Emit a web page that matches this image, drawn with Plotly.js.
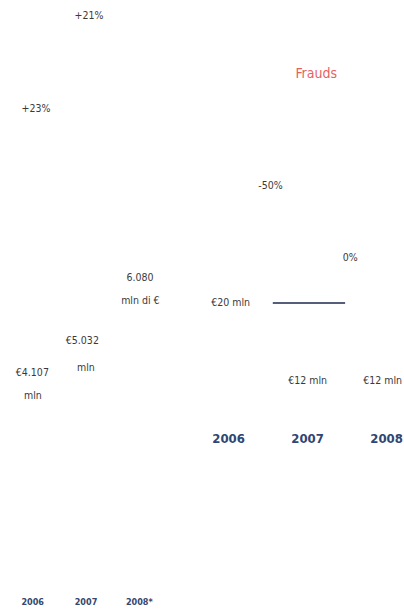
<!DOCTYPE html>
<html>
<head>
<meta charset="utf-8">
<script src="https://cdn.plot.ly/plotly-3.0.1.min.js"></script>
<style>html,body{margin:0;padding:0;background:#fff;}#chart{width:404px;height:614px;}
#chart svg text{font-stretch:condensed !important;}</style>
</head>
<body>
<div id="chart"></div>
<script>
// Left chart: sales volume
const salesYears = ["2006", "2007", "2008*"];
const salesValues = [4107, 5032, 6080];
const salesLabelTop = ["€4.107", "€5.032", "6.080"];
const salesLabelBottom = ["mln", "mln", "mln di €"];
const salesGrowth = ["+23%", "+21%"];

// Right chart: frauds
const fraudYears = ["2006", "2007", "2008"];
const fraudValues = [20, 12, 12];
const fraudLabels = ["€20 mln", "€12 mln", "€12 mln"];
const fraudChange = ["-50%", "0%"];
const fraudTitle = "Frauds";

const FONT = "'DejaVu Sans', sans-serif";
const H = 614;
const py = (px) => 1 - px / H; // pixel row -> paper fraction

const traces = [
  {type: "bar", x: salesYears, y: salesValues, xaxis: "x", yaxis: "y",
   marker: {color: "rgba(255,255,255,0)"}, hoverinfo: "skip", showlegend: false},
  {type: "bar", x: fraudYears, y: fraudValues, xaxis: "x2", yaxis: "y2",
   marker: {color: "rgba(255,255,255,0)"}, hoverinfo: "skip", showlegend: false}
];

const ann = [];
const small = {family: FONT, size: 10.5, color: "#3a3a3a"};
function label(xref, x, row, text, font) {
  ann.push({xref: xref, yref: "paper", x: x, y: py(row), text: text, showarrow: false,
    font: font || small, xanchor: "center", yanchor: "middle"});
}
// sales labels (two lines, widely spaced)
const salesTopPos = [[0, 372], [-0.07, 340], [0.02, 277]];
const salesBottomPos = [[0, 395], [0, 367], [0.02, 300]];
salesYears.forEach((c, i) => {
  label("x", i + salesTopPos[i][0], salesTopPos[i][1], salesLabelTop[i]);
  label("x", i + salesBottomPos[i][0], salesBottomPos[i][1], salesLabelBottom[i]);
});
// growth labels
const growthPos = [[0.07, 108], [1.06, 15]];
salesGrowth.forEach((t, i) => label("x", growthPos[i][0], growthPos[i][1], t));
// fraud labels
const fraudLabelPos = [[0.03, 302], [0, 380], [-0.05, 380]];
fraudYears.forEach((c, i) => label("x2", i + fraudLabelPos[i][0], fraudLabelPos[i][1], fraudLabels[i]));
const changePos = [[0.525, 185], [1.54, 257]];
fraudChange.forEach((t, i) => label("x2", changePos[i][0], changePos[i][1], t));
label("x2", 1.11, 73, fraudTitle, {family: FONT, size: 14, color: "#e85f62"});

const layout = {
  width: 404, height: 614,
  margin: {l: 0, r: 0, t: 0, b: 0},
  paper_bgcolor: "#fff", plot_bgcolor: "rgba(0,0,0,0)",
  showlegend: false,
  bargap: 0.4,
  xaxis: {domain: [6/404, 166/404], anchor: "y", type: "category", range: [-0.5, 2.5],
    showgrid: false, zeroline: false, showline: false, ticks: "",
    tickfont: {family: FONT, size: 9, color: "#34476e", weight: "bold"}},
  yaxis: {domain: [py(595), 1], anchor: "x", range: [0, 7000], visible: false, showgrid: false},
  xaxis2: {domain: [189/404, 1], anchor: "y2", type: "category", range: [-0.5, 2.22],
    showgrid: false, zeroline: false, showline: false, ticks: "",
    tickfont: {family: FONT, size: 13, color: "#2f4675", weight: "bold"}},
  yaxis2: {domain: [py(429), py(40)], anchor: "x2", range: [0, 30], visible: false, showgrid: false},
  annotations: ann,
  shapes: [{type: "line", xref: "x2", yref: "paper", x0: 0.56, x1: 1.475, y0: py(303), y1: py(303),
    line: {color: "#1c2a4f", width: 1.5}}]
};

Plotly.newPlot("chart", traces, layout, {staticPlot: true, displayModeBar: false});
</script>
</body>
</html>
